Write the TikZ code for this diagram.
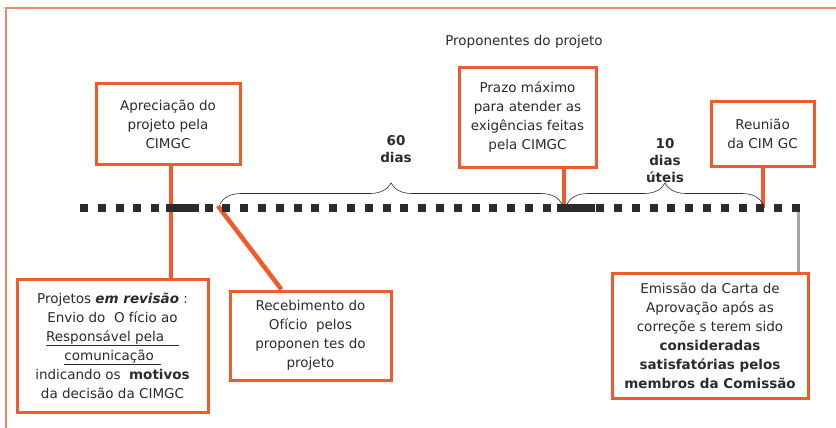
\documentclass[tikz,border=0pt]{standalone}
\usepackage{fontspec}
\setmainfont{DejaVu Sans}
\usepackage{tikz}
\usetikzlibrary{decorations.pathreplacing, positioning}

\definecolor{laranja}{HTML}{F15A29}
\definecolor{moldura}{HTML}{F0886A}
\definecolor{texto}{HTML}{2B2B2B}

\tikzset{
  caixa/.style={draw=laranja, line width=3pt, fill=white, align=center,
    text=texto, inner sep=0pt, font=\fontsize{13.5}{19}\selectfont},
  haste/.style={draw=laranja, line width=4.5pt},
  chave/.style={decorate, decoration={brace, amplitude=21pt}, semithick, texto},
  rotulo/.style={align=center, text=texto, font=\bfseries\fontsize{13.5}{17}\selectfont},
}

\begin{document}
\begin{tikzpicture}[x=1pt, y=-1pt]
    \useasboundingbox (0,0) rectangle (836,428);

    % Frame of the figure
    \draw[moldura, line width=1.5pt] (6,428) -- (6,8) -- (836,8);
    \node[text=texto, font=\fontsize{13.5}{16}\selectfont] (titulo) at (524,42) {Proponentes do projeto};

    % Boxes above the time line
    \node[caixa, minimum width=144pt, minimum height=80pt] (apreciacao) at (168,124)
        {Apreciação do\\ projeto pela\\ CIMGC};
    \node[caixa, minimum width=137pt, minimum height=99pt] (prazo) at (527.5,117.5)
        {Prazo máximo\\ para atender as\\ exigências feitas\\ pela CIMGC};
    \node[caixa, minimum width=103pt, minimum height=64pt] (reuniao) at (762.5,134)
        {Reunião\\ da CIM GC};

    % Boxes below the time line
    \node[caixa, minimum width=191pt, minimum height=133pt] (revisao) at (112.5,345.5)
        {Projetos \textbf{\textit{em revisão}} :\\
         Envio do \ O fício ao\\
         \underline{Responsável pela\hspace{1.1em}}\\
         \underline{comunicação\hspace{0.5em}}\\
         indicando os \ \textbf{motivos}\\
         da decisão da CIMGC};
    \node[caixa, minimum width=161pt, minimum height=89pt] (recebimento) at (310.5,335.5)
        {Recebimento do\\ Ofício \ pelos\\ proponen tes do\\ projeto};
    \node[caixa, minimum width=196pt, minimum height=125pt] (emissao) at (710,335.5)
        {Emissão da Carta de\\ Aprovação após as\\ correçõe s terem sido\\
         \textbf{consideradas}\\ \textbf{satisfatórias pelos}\\ \textbf{membros da Comissão}};

    % Points on the time line
    \coordinate (t1) at (171,208);
    \coordinate (t2) at (218,206);
    \coordinate (t3) at (564,208);
    \coordinate (t4) at (763,208);
    \coordinate (t5) at (798,208);

    % Connectors
    \draw[haste] (apreciacao.south -| t1) -- (t1 |- revisao.north);
    \draw[haste] (t2) -- ([xshift=53pt]recebimento.north west);
    \draw[haste] (prazo.south -| t3) -- (t3);
    \draw[haste] (reuniao.south -| t4) -- (t4);
    \draw[gray!70, line width=3pt] (t5) -- (t5 |- emissao.north);

    % Time line
    \draw[texto, line width=8pt, dash pattern=on 8pt off 9.8pt] (80,208) -- (800,208);
    \draw[texto, line width=8pt] (166,208) -- (199,208);
    \draw[texto, line width=8pt] (557,208) -- (595,208);

    % Braces and durations
    \draw[chave] (220,204) -- (562,204);
    \node[rotulo] (sessenta) at (396,149) {60\\ dias};
    \draw[chave] (567,204) -- (763,204);
    \node[rotulo] (dez) at (665,161) {10\\ dias\\ úteis};

\end{tikzpicture}
\end{document}
